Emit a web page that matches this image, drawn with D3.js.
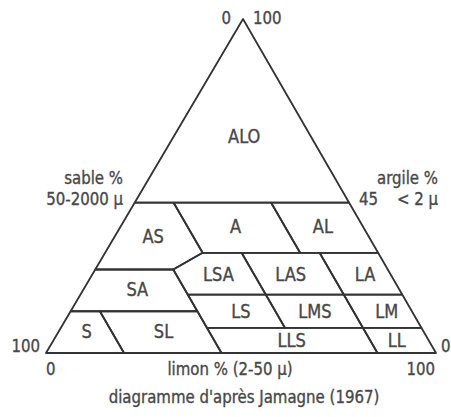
<!DOCTYPE html>
<html>
<head>
<meta charset="utf-8">
<script src="https://cdn.jsdelivr.net/npm/d3@7"></script>
<style>
  body { margin: 0; background: #fff; }
  svg { display: block; }
  .lbl { font-family: "Liberation Sans Narrow", "DejaVu Sans Condensed", "Arial Narrow", sans-serif; fill: #484848; stroke: #484848; stroke-width: 0.35px; }
</style>
</head>
<body>
<svg id="chart"></svg>
<script>
document.addEventListener("DOMContentLoaded", function() {
  const width = 451;
  const height = 417;

  // texture classes, polygon corners as [argile %, sable %]
  const classes = ["ALO", "AS", "A", "AL", "SA", "S", "SL", "LSA", "LAS", "LA", "LS", "LMS", "LM", "LLS", "LL"];
  const polygons = [
    [[45, 55], [45, 0], [100, 0]],
    [[45, 55], [45, 45], [30, 45], [25, 55], [25, 75]],
    [[45, 45], [45, 20], [30, 20], [30, 45]],
    [[45, 20], [45, 0], [30, 0], [30, 20]],
    [[25, 75], [25, 55], [12.5, 55], [12.5, 87.5]],
    [[12.5, 87.5], [12.5, 80], [0, 80], [0, 100]],
    [[12.5, 80], [12.5, 55], [0, 55], [0, 80]],
    [[30, 45], [30, 35], [17.5, 35], [17.5, 55], [25, 55]],
    [[30, 35], [30, 15], [17.5, 15], [17.5, 35]],
    [[30, 15], [30, 0], [17.5, 0], [17.5, 15]],
    [[17.5, 55], [17.5, 35], [7.5, 35], [7.5, 55]],
    [[17.5, 35], [17.5, 15], [7.5, 15], [7.5, 35]],
    [[17.5, 15], [17.5, 0], [7.5, 0], [7.5, 15]],
    [[7.5, 55], [7.5, 15], [0, 15], [0, 55]],
    [[7.5, 15], [7.5, 0], [0, 0], [0, 15]]
  ];
  // where each class name sits, [argile %, sable %]
  const labelAt = [
    [65, 17], [34.8, 55.3], [38, 32.6], [38, 10.2], [19.2, 67.1],
    [6.4, 86.4], [6.4, 66.7], [23.6, 44.1], [23.6, 25.6], [23.6, 6.5],
    [12.4, 43.9], [12.4, 24.9], [12.4, 6.5], [3.9, 35.1], [3.7, 8.2]
  ];
  const axisEnds = ["0", "100"];

  // corners of the triangle
  const L = [46, 353], R = [436, 353], A = [243, 19];

  // limon along the base, argile up towards the apex
  const limonX = d3.scaleLinear().domain([0, 100]).range([0, R[0] - L[0]]);
  const argileX = d3.scaleLinear().domain([0, 100]).range([0, A[0] - L[0]]);
  const argileY = d3.scaleLinear().domain([0, 100]).range([L[1], A[1]]);

  const pos = (d) => {
    let argile = d[0], sable = d[1];
    let limon = 100 - argile - sable;
    return [L[0] + limonX(limon) + argileX(argile), argileY(argile)];
  };

  let svg = d3.select("#chart")
              .attr("width", width)
              .attr("height", height);

  let line = d3.line().curve(d3.curveLinearClosed);

  //draw classes
  svg.selectAll(".cls")
     .data(polygons)
     .enter()
     .append("path")
       .attr("class", "cls")
       .attr("d", d => line(d.map(pos)))
       .attr("fill", "none")
       .attr("stroke", "#333")
       .attr("stroke-width", 1.8)
       .attr("stroke-linejoin", "round");

  //class names
  svg.selectAll(".name")
     .data(classes)
     .enter()
     .append("text")
       .attr("class", "lbl name")
       .attr("transform", (d, i) => `translate(${pos(labelAt[i])}) scale(0.95,1)`)
       .attr("text-anchor", "middle")
       .attr("dominant-baseline", "central")
       .style("font-size", "19px")
       .text(d => d);

  //axis ends and titles
  const outer = [
    { t: axisEnds[0], x: A[0] - 12, y: 24, a: "end" },
    { t: axisEnds[1], x: A[0] + 10, y: 24, a: "start" },
    { t: "sable %", x: 123, y: 184, a: "end" },
    { t: "50-2000 \u00b5", x: 123, y: 205, a: "end" },
    { t: "argile %", x: 438, y: 184, a: "end" },
    { t: "45", x: 359, y: 205, a: "start" },
    { t: "< 2 \u00b5", x: 438, y: 205, a: "end" },
    { t: axisEnds[1], x: 40, y: 352, a: "end" },
    { t: axisEnds[0], x: 441, y: 352, a: "start" },
    { t: axisEnds[0], x: 46, y: 375, a: "start" },
    { t: axisEnds[1], x: 435, y: 375, a: "end" },
    { t: "limon % (2-50 \u00b5)", x: 230, y: 375, a: "middle" },
    { t: "diagramme d'apr\u00e8s Jamagne (1967)", x: 244, y: 403, a: "middle" }
  ];

  svg.selectAll(".outer")
     .data(outer)
     .enter()
     .append("text")
       .attr("class", "lbl outer")
       .attr("transform", d => `translate(${d.x},${d.y}) scale(0.9,1)`)
       .attr("text-anchor", d => d.a)
       .style("font-size", "18.5px")
       .text(d => d.t);
});
</script>
</body>
</html>
